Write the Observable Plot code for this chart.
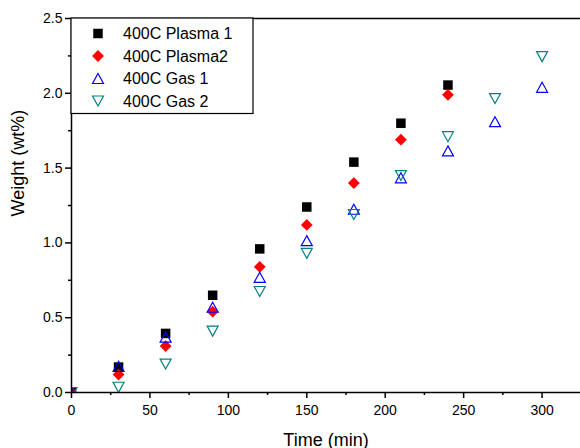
<!DOCTYPE html>
<html><head><meta charset="utf-8">
<script src="https://cdn.jsdelivr.net/npm/d3@7"></script>
<script src="https://cdn.jsdelivr.net/npm/@observablehq/plot@0.6"></script>
<style>
body{margin:0;background:#fff;font-family:"Liberation Sans",Arial,sans-serif;}
#chart svg{display:block;color:#000;}
</style>
</head><body><div id="chart"></div>
<script>
// ---- data ----
const times = [0, 30, 60, 90, 120, 150, 180, 210, 240, 270, 300];
const plasma1 = [0, 0.17, 0.395, 0.65, 0.96, 1.24, 1.54, 1.80, 2.055];
const plasma2 = [0, 0.12, 0.31, 0.54, 0.84, 1.12, 1.40, 1.69, 1.99];
const gas1 = [0, 0.175, 0.37, 0.57, 0.77, 1.015, 1.225, 1.435, 1.615, 1.81, 2.04];
const gas2 = [0, 0.035, 0.19, 0.41, 0.675, 0.93, 1.19, 1.45, 1.71, 1.965, 2.245];
const seriesNames = ["400C Plasma 1", "400C Plasma2", "400C Gas 1", "400C Gas 2"];
const seriesValues = [plasma1, plasma2, gas1, gas2];
const seriesColors = ["#000000", "#ff0000", "#0000ff", "#008080"];
const xTicks = [0, 50, 100, 150, 200, 250, 300];
const xMinor = [25, 75, 125, 175, 225, 275];
const yTicks = [0, 0.5, 1.0, 1.5, 2.0, 2.5];
const yMinor = [0.25, 0.75, 1.25, 1.75, 2.25];
const xTitle = "Time (min)";
const yTitle = "Weight (wt%)";

// ---- symbols ----
const unit = s => Math.sqrt(s / Math.PI);
const symSquare = {draw(c, s){const r = unit(s)*0.95; c.moveTo(-r,-r); c.lineTo(r,-r); c.lineTo(r,r); c.lineTo(-r,r); c.closePath();}};
const symDiamond = {draw(c, s){const r = unit(s)*1.18; c.moveTo(0,-r); c.lineTo(r,0); c.lineTo(0,r); c.lineTo(-r,0); c.closePath();}};
const symTriUp = {draw(c, s){const u = unit(s); const w = u*1.1, h = u*1.0; c.moveTo(0,-h); c.lineTo(w,h); c.lineTo(-w,h); c.closePath();}};
const symTriDown = {draw(c, s){const u = unit(s); const w = u*1.1, h = u*1.0; c.moveTo(0,h); c.lineTo(w,-h); c.lineTo(-w,-h); c.closePath();}};
const symbols = [symSquare, symDiamond, symTriUp, symTriDown];
const filled = [true, true, false, false];

const rows = [];
seriesValues.forEach((vals, i) => vals.forEach((v, j) => rows.push({series: i, t: times[j], w: v})));

const dotMarks = seriesValues.map((_, i) => Plot.dot(rows.filter(d => d.series === i), {
  x: "t", y: "w", r: 5, symbol: symbols[i],
  fill: filled[i] ? seriesColors[i] : "none",
  stroke: filled[i] ? "none" : seriesColors[i],
  strokeWidth: 1.2, clip: true
}));

const plot = Plot.plot({
  width: 580, height: 448,
  marginLeft: 71, marginRight: 0, marginTop: 18, marginBottom: 56,
  style: {fontFamily: '"Liberation Sans", Arial, sans-serif', color: "#000", background: "#fff"},
  x: {domain: [0, 324.5]},
  y: {domain: [0, 2.5]},
  marks: [
    Plot.axisX(xTicks, {anchor: "bottom", tickSize: 6, tickPadding: 7, fontSize: 14, strokeWidth: 1.5, label: null}),
    Plot.axisX(xMinor, {anchor: "bottom", tickSize: 3, tickFormat: () => "", strokeWidth: 1.5, label: null}),
    Plot.axisY(yTicks, {anchor: "left", tickSize: 6, tickPadding: 3, fontSize: 14, strokeWidth: 1.5, tickFormat: d3.format(".1f"), label: null}),
    Plot.axisY(yMinor, {anchor: "left", tickSize: 3, tickFormat: () => "", strokeWidth: 1.5, label: null}),
    ...dotMarks,
    Plot.ruleY([0, 2.5], {stroke: "#000", strokeWidth: 1.5}),
    Plot.ruleX([0], {stroke: "#000", strokeWidth: 1.5}),
    Plot.text([xTitle], {frameAnchor: "bottom", dy: 53, lineAnchor: "bottom", fontSize: 18, fill: "#000"}),
    Plot.text([yTitle], {frameAnchor: "left", dx: -53, dy: 11, rotate: -90, lineAnchor: "middle", fontSize: 18, fill: "#000"})
  ]
});
document.getElementById("chart").append(plot);

// ---- legend (inside plot, top-left) ----
const svg = d3.select(plot);
const lg = svg.append("g").attr("font-family", '"Liberation Sans", Arial, sans-serif')
  .attr("font-size", 16).attr("text-anchor", "start");
lg.append("rect").attr("x", 71).attr("y", 18).attr("width", 182).attr("height", 95.5)
  .attr("fill", "#fff").attr("stroke", "#000").attr("stroke-width", 1.2);
const rowY = [33.5, 56, 78.5, 101];
seriesNames.forEach((name, i) => {
  const path = d3.symbol().type(symbols[i]).size(25 * Math.PI)();
  lg.append("path").attr("d", path).attr("transform", `translate(98,${rowY[i]})`)
    .attr("fill", filled[i] ? seriesColors[i] : "none")
    .attr("stroke", filled[i] ? "none" : seriesColors[i]).attr("stroke-width", 1.2);
  lg.append("text").attr("x", 123).attr("y", rowY[i] + 5.8).attr("fill", "#000")
    .attr("text-anchor", "start").style("font-size", "16px").text(name);
});
</script>
</body></html>
